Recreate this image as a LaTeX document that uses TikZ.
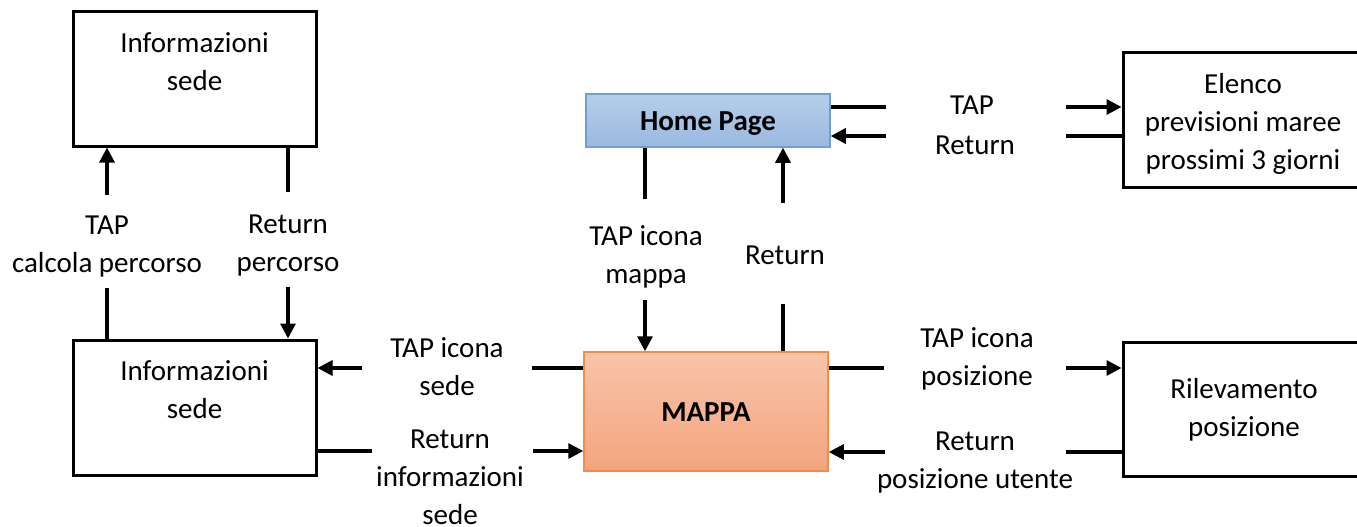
\documentclass[tikz,border=0pt]{standalone}
\usepackage{fontspec}
\setmainfont{Carlito}
\usetikzlibrary{arrows.meta}
\definecolor{homeTop}{HTML}{B6CEEB}
\definecolor{homeBot}{HTML}{99B9DF}
\definecolor{homeLine}{HTML}{6F9ED6}
\definecolor{mapTop}{HTML}{F8C4A9}
\definecolor{mapBot}{HTML}{F4A47F}
\definecolor{mapLine}{HTML}{EF8E4B}
\tikzset{
  every node/.style={font=\fontsize{29}{38}\selectfont},
  screen/.style={draw=black, line width=3pt, inner sep=0pt, outer sep=1.5pt,
    minimum width=243pt, align=center},
  homebox/.style={draw=homeLine, line width=1.5pt, top color=homeTop, bottom color=homeBot,
    inner sep=0pt, outer sep=0.75pt, minimum width=244pt, minimum height=53pt,
    text height=19pt, text depth=0pt,
    font=\fontsize{29}{38}\selectfont\bfseries},
  mapbox/.style={draw=mapLine, line width=1.5pt, top color=mapTop, bottom color=mapBot,
    inner sep=0pt, outer sep=0.75pt, minimum width=244pt, minimum height=119pt,
    text height=20pt, text depth=0pt,
    font=\fontsize{29}{38}\selectfont\bfseries},
  lbl/.style={align=center, inner sep=0pt,
    execute at begin node=\strut, execute at end node=\strut},
  seg/.style={line width=3.2pt},
  arr/.style={line width=3.2pt, -{Triangle[length=15pt,width=15pt]}}
}
\begin{document}
\begin{tikzpicture}[x=1pt,y=-1pt]
\useasboundingbox (0,0) rectangle (1357,527);

% screens
\node[screen, minimum height=134pt] (itop) at (194.5,79) {};
\node[lbl] (itoptxt) at (194.5,67) {Informazioni\\sede};
\node[screen, minimum height=135pt] (ibot) at (194.5,407.5) {};
\node[lbl] (ibottxt) at (194.5,395) {Informazioni\\sede};
\node[homebox] (home) at (708,120.5) {Home Page};
\node[mapbox] (mappa) at (706,411.5) {MAPPA};
\node[screen, minimum height=134pt] (elenco) at (1244.5,120) {};
\node[lbl] (elencotxt) at (1243,127.5) {Elenco\\previsioni maree\\prossimi 3 giorni};
\node[screen, minimum height=134pt] (ril) at (1244.5,409) {};
\node[lbl] (riltxt) at (1244,413) {Rilevamento\\posizione};

% transition labels
\node[lbl] (l1) at (107,249.5) {TAP\\calcola percorso};
\node[lbl] (l2) at (288,249) {Return\\percorso};
\node[lbl] (l3) at (646,260) {TAP icona\\mappa};
\node[lbl] (l4) at (785,257) {Return};
\node[lbl] (l5a) at (972,107) {TAP};
\node[lbl] (l5b) at (975,147) {Return};
\node[lbl] (l6) at (447,372) {TAP icona\\sede};
\node[lbl] (l7) at (450,483) {Return\\informazioni\\sede};
\node[lbl] (l8) at (977,362) {TAP icona\\posizione};
\node[lbl] (l9) at (975,466) {Return\\posizione utente};

% free ends of the split connectors
\coordinate (c1) at (107,288);
\coordinate (c2) at (107,195);
\coordinate (c3) at (288,192);
\coordinate (c4) at (288,287);
\coordinate (c5) at (645,199);
\coordinate (c6) at (645,300);
\coordinate (c7) at (783,304);
\coordinate (c8) at (783,203);
\coordinate (c9) at (886,107);
\coordinate (c10) at (1066,107);
\coordinate (c11) at (1066,136);
\coordinate (c12) at (886,136);
\coordinate (c13) at (532,368);
\coordinate (c14) at (362,368);
\coordinate (c15) at (372,451);
\coordinate (c16) at (533,451);
\coordinate (c17) at (884,368);
\coordinate (c18) at (1066,368);
\coordinate (c19) at (1066,452);
\coordinate (c20) at (885,452);

% connectors
\draw[seg] (ibot.north -| c1) -- (c1);
\draw[arr] (c2) -- (itop.south -| c2);
\draw[seg] (itop.south -| c3) -- (c3);
\draw[arr] (c4) -- (ibot.north -| c4);
\draw[seg] (home.south -| c5) -- (c5);
\draw[arr] (c6) -- (mappa.north -| c6);
\draw[seg] (mappa.north -| c7) -- (c7);
\draw[arr] (c8) -- (home.south -| c8);
\draw[seg] (home.east |- c9) -- (c9);
\draw[arr] (c10) -- (elenco.west |- c10);
\draw[seg] (elenco.west |- c11) -- (c11);
\draw[arr] (c12) -- (home.east |- c12);
\draw[seg] (mappa.west |- c13) -- (c13);
\draw[arr] (c14) -- (ibot.east |- c14);
\draw[seg] (ibot.east |- c15) -- (c15);
\draw[arr] (c16) -- (mappa.west |- c16);
\draw[seg] (mappa.east |- c17) -- (c17);
\draw[arr] (c18) -- (ril.west |- c18);
\draw[seg] (ril.west |- c19) -- (c19);
\draw[arr] (c20) -- (mappa.east |- c20);
\end{tikzpicture}
\end{document}
